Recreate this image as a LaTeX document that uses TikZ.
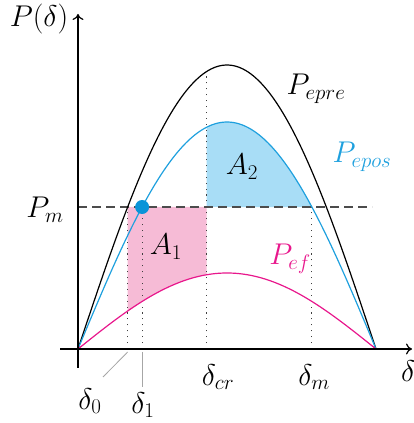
\RequirePackage{fix-cm}
\documentclass[tikz,border=0pt]{standalone}
\usepackage{amsmath}
\usetikzlibrary{arrows.meta}
\definecolor{cpos}{HTML}{1EA0DE}
\definecolor{cef}{HTML}{E8178C}
\definecolor{fpos}{HTML}{A8DDF6}
\definecolor{fef}{HTML}{F6BBD6}
\definecolor{cdot}{HTML}{0A94D8}
\begin{document}
\begin{tikzpicture}[x=1pt,y=1pt,
  lab/.style={inner sep=0pt,font=\fontsize{30}{36}\selectfont},
  curve/.style={line width=1.2pt},
  guide/.style={line width=1.1pt,black!75,dash pattern=on 1.1pt off 4.8pt},
  pinline/.style={gray!70,line width=0.8pt},
  axis/.style={line width=1.2pt,-{To[length=6pt,width=11pt]}}]
\useasboundingbox (0,0) rectangle (414,423);
% parameters
\def\myXa{78}\def\myW{298}\def\myYo{74}\def\myPm{216}
\def\myDz{127.67}\def\myDone{142.1}\def\myDcr{206.7}\def\myDm{311.9}
% fills
\fill[fef] (\myDz,\myPm) -- (\myDcr,\myPm)
  -- plot[domain=77.74:30,samples=40] ({\myXa+\x/180*\myW},{\myYo+76*sin(\x)}) -- cycle;
\fill[fpos] (\myDcr,\myPm)
  -- plot[domain=77.74:141.28,samples=60] ({\myXa+\x/180*\myW},{\myYo+227*sin(\x)}) -- cycle;
% guides
\coordinate (g0) at (\myDz,\myYo); \coordinate (g0t) at (\myDz,\myPm);
\coordinate (g1) at (\myDone,\myYo); \coordinate (g1t) at (\myDone,\myPm);
\coordinate (gc) at (\myDcr,\myYo); \coordinate (gct) at (\myDcr,{\myYo+284*sin(77.74)});
\coordinate (gm) at (\myDm,\myYo); \coordinate (gmt) at (\myDm,\myPm);
\draw[guide] (g0) -- (g0t);
\draw[guide] (g1) -- (g1t);
\draw[guide] (gc) -- (gct);
\draw[guide] (gm) -- (gmt);
% Pm line
\coordinate (pml) at (\myXa,\myPm); \coordinate (pmr) at (372,\myPm);
\draw[dashed,dash pattern=on 9pt off 5pt,line width=1.1pt,black!70] (pml) -- (pmr);
% curves
\draw[curve,black] plot[domain=0:180,samples=120] ({\myXa+\x/180*\myW},{\myYo+284*sin(\x)});
\draw[curve,cpos] plot[domain=0:180,samples=120] ({\myXa+\x/180*\myW},{\myYo+227*sin(\x)});
\draw[curve,cef] plot[domain=0:180,samples=120] ({\myXa+\x/180*\myW},{\myYo+76*sin(\x)});
% axes
\coordinate (xl) at (60,\myYo); \coordinate (xr) at (412,\myYo);
\coordinate (yb) at (\myXa,55); \coordinate (yt) at (\myXa,409);
\draw[axis] (xl) -- (xr);
\draw[axis] (yb) -- (yt);
% dot
\fill[cdot] (\myDone,\myPm) circle (7pt);
% labels
\node[lab] (Pd) at (39,404) {$P(\delta)$};
\node[lab] (Pm) at (45,213) {$P_m$};
\node[lab] (Ppre) at (316,334) {$P_{epre}$};
\node[lab,text=cpos] (Ppos) at (362,266) {$P_{epos}$};
\node[lab,text=cef] (Pef) at (290,164) {$P_{ef}$};
\node[lab] (A2) at (242,256) {$A_2$};
\node[lab] (A1) at (166,176) {$A_1$};
\node[lab] (dcr) at (218,46) {$\delta_{cr}$};
\node[lab] (dm) at (314,46) {$\delta_m$};
\node[lab] (d0) at (90,22) {$\delta_0$};
\node[lab] (d1) at (143,18) {$\delta_1$};
\node[lab,anchor=west] (dx) at (401,52) {$\delta$};
% pin lines
\coordinate (p0a) at (\myDz,71); \coordinate (p0b) at (103,46);
\coordinate (p1a) at (\myDone,71); \coordinate (p1b) at (\myDone,36);
\draw[pinline] (p0a) -- (p0b);
\draw[pinline] (p1a) -- (p1b);
\end{tikzpicture}
\end{document}
